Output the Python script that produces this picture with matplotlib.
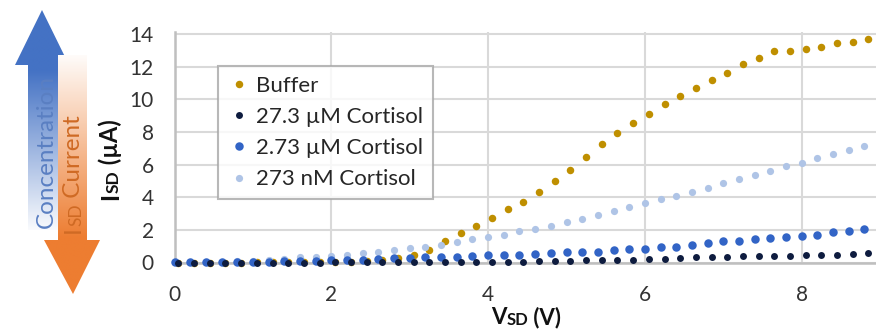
import matplotlib
matplotlib.use('Agg')
import matplotlib.pyplot as plt
import numpy as np
from matplotlib.patches import Polygon

plt.rcParams['font.family'] = ['Lato', 'DejaVu Sans']

# x positions (V) - the two pairs of series sit slightly apart
x_blue = [0.0, 0.2, 0.4, 0.6, 0.8, 1.0, 1.2, 1.4, 1.6, 1.8,
          2.0, 2.2, 2.4, 2.6, 2.8, 3.0, 3.2, 3.4, 3.6, 3.8,
          4.0, 4.2, 4.4, 4.6, 4.8, 5.0, 5.2, 5.4, 5.6, 5.8,
          6.0, 6.2, 6.4, 6.6, 6.8, 7.0, 7.2, 7.4, 7.6, 7.8,
          8.0, 8.2, 8.4, 8.6, 8.8]
x_dark = [0.05, 0.25, 0.45, 0.65, 0.85, 1.05, 1.25, 1.45, 1.65, 1.85,
          2.05, 2.25, 2.45, 2.65, 2.85, 3.05, 3.25, 3.45, 3.65, 3.85,
          4.05, 4.25, 4.45, 4.65, 4.85, 5.05, 5.25, 5.45, 5.65, 5.85,
          6.05, 6.25, 6.45, 6.65, 6.85, 7.05, 7.25, 7.45, 7.65, 7.85,
          8.05, 8.25, 8.45, 8.65, 8.85]

buffer = [0.0, 0.0, 0.0, 0.0, 0.0, 0.01, 0.01, 0.02, 0.02, 0.03,
          0.04, 0.05, 0.08, 0.14, 0.28, 0.46, 0.77, 1.29, 1.78, 2.26,
          2.71, 3.26, 3.73, 4.32, 4.99, 5.65, 6.44, 7.26, 7.96, 8.53,
          9.12, 9.71, 10.18, 10.67, 11.16, 11.63, 12.14, 12.51, 12.94, 12.98,
          13.08, 13.22, 13.43, 13.53, 13.71]
c273uM = [0.0, 0.0, 0.0, 0.0, 0.0, 0.0, 0.0, 0.0, 0.0, 0.0,
          0.01, 0.01, 0.02, 0.02, 0.02, 0.03, 0.03, 0.03, 0.04, 0.04,
          0.04, 0.04, 0.05, 0.08, 0.12, 0.12, 0.16, 0.16, 0.16, 0.16,
          0.22, 0.22, 0.27, 0.31, 0.31, 0.31, 0.37, 0.37, 0.41, 0.41,
          0.45, 0.45, 0.49, 0.55, 0.61]
c273uM_2 = [0.02, 0.02, 0.02, 0.02, 0.03, 0.04, 0.05, 0.07, 0.09, 0.12,
            0.15, 0.18, 0.17, 0.21, 0.26, 0.30, 0.36, 0.36, 0.36, 0.40,
            0.46, 0.46, 0.46, 0.50, 0.60, 0.62, 0.66, 0.66, 0.77, 0.81,
            0.85, 0.93, 0.97, 1.05, 1.19, 1.30, 1.34, 1.42, 1.52, 1.56,
            1.62, 1.69, 1.87, 1.93, 2.05]
c273nM = [0.02, 0.02, 0.02, 0.05, 0.10, 0.10, 0.15, 0.24, 0.33, 0.36,
          0.42, 0.46, 0.56, 0.66, 0.77, 0.87, 0.93, 1.07, 1.28, 1.42,
          1.54, 1.69, 1.91, 2.03, 2.24, 2.48, 2.67, 2.91, 3.16, 3.42,
          3.67, 3.91, 4.09, 4.34, 4.58, 4.87, 5.12, 5.36, 5.61, 5.89,
          6.12, 6.42, 6.67, 6.91, 7.16]

labels = ['Buffer', '27.3 µM Cortisol', '2.73 µM Cortisol', '273 nM Cortisol']
colors = ['#BF8F00', '#0E1C3F', '#3264C6', '#AFC4E6']
yticks = [0, 2, 4, 6, 8, 10, 12, 14]
xticks = [0, 2, 4, 6, 8]

W, H = 876, 329
fig = plt.figure(figsize=(W / 100, H / 100), dpi=100)

# overlay in pixel coords for the side arrows and composite labels
ov = fig.add_axes([0, 0, 1, 1], zorder=0)
ov.set_xlim(0, W)
ov.set_ylim(H, 0)
ov.axis('off')


def grad_arrow(pts, rgb, y_full, y_white):
    poly = Polygon(pts, closed=True, facecolor='none', edgecolor='none')
    ov.add_patch(poly)
    xs = [p[0] for p in pts]
    ys = [p[1] for p in pts]
    y0, y1 = min(ys), max(ys)
    yy = np.linspace(y0, y1, 200)
    t = np.clip((yy - y_white) / (y_full - y_white), 0, 1)[:, None]
    c = np.array(matplotlib.colors.to_rgb(rgb))
    img = np.ones((200, 2, 3)) * (1 - t[:, :, None]) + c * t[:, :, None]
    im = ov.imshow(img, extent=(min(xs), max(xs), y1, y0), aspect='auto',
                   interpolation='bilinear', zorder=1)
    im.set_clip_path(poly)


grad_arrow([(42, 10), (69, 65), (58, 65), (58, 230), (28, 230), (28, 65), (15, 65)],
           '#4472C4', 70, 235)
grad_arrow([(58, 55), (87, 55), (87, 240), (100, 240), (73, 294), (44, 240), (58, 240)],
           '#ED7D31', 238, 50)

ov.text(57, 151, 'Concentration', rotation=90, ha='right', va='center',
        fontsize=17.5, color='#5A7FC2', zorder=3)


def chain(parts, x, y, rot, color, weight):
    prev = None
    for txt, size in parts:
        if prev is None:
            if rot:
                prev = ov.text(x, y, txt, rotation=90, ha='right', va='bottom',
                               fontsize=size, color=color, weight=weight, zorder=3)
            else:
                prev = ov.text(x, y, txt, ha='left', va='bottom',
                               fontsize=size, color=color, weight=weight, zorder=3)
        else:
            if rot:
                prev = ov.annotate(txt, xy=(1, 1), xycoords=prev, rotation=90,
                                   ha='right', va='bottom', fontsize=size,
                                   color=color, weight=weight, zorder=3)
            else:
                prev = ov.annotate(txt, xy=(1, 0), xycoords=prev,
                                   ha='left', va='bottom', fontsize=size,
                                   color=color, weight=weight, zorder=3)


chain([('I', 17.5), ('SD', 12.5), (' Current', 17.5)], 84, 233, True, '#CF6A24', 'normal')
chain([('I', 17), ('SD', 12.5), (' (µA)', 17)], 122, 200, True, '#111111', 'bold')
chain([('V', 16), ('SD', 12), (' (V)', 16)], 491, 328, False, '#111111', 'bold')

# main chart
y0px, y14px = 262.5, 34.0
ppu = (y0px - y14px) / 14
ytop = 14.1
ax_top = y0px - ytop * ppu
x0px = 174.5
xppu = 78.4
ax = fig.add_axes([x0px / W, (H - y0px) / H, (W - x0px) / W, (y0px - ax_top) / H], zorder=2)
ax.patch.set_alpha(0)
ax.set_xlim(0, (W - x0px) / xppu)
ax.set_ylim(0, ytop)

series = [(x_dark, buffer, 5.4, 1), (x_dark, c273uM, 5.0, 5), (x_blue, c273uM_2, 6.1, 4), (x_blue, c273nM, 5.2, 3)]
for (xs, ys, ms, z), lab, col in zip(series, labels, colors):
    ax.plot(xs, ys, 'o', ms=ms, color=col, mew=0, label=lab, clip_on=False, zorder=z)

ax.set_xticks(xticks)
ax.set_yticks(yticks)
ax.grid(True, color='#D9D9D9', lw=1.5)
ax.set_axisbelow(True)
for s in ['top', 'right']:
    ax.spines[s].set_visible(False)
for s in ['left', 'bottom']:
    ax.spines[s].set_color('#BFBFBF')
    ax.spines[s].set_linewidth(1.8)
ax.tick_params(length=0, labelsize=15, labelcolor='#333333')
ax.tick_params(axis='y', pad=15)
ax.tick_params(axis='x', pad=16)

leg = ax.legend(loc='upper left', bbox_to_anchor=(218 / W, 1 - 66 / H),
                bbox_transform=fig.transFigure, borderaxespad=0, fontsize=16,
                frameon=True, fancybox=False, edgecolor='#A6A6A6',
                handlelength=1.0, handletextpad=0.25, borderpad=0.45,
                labelspacing=0.5, numpoints=1)
leg.get_frame().set_linewidth(1.5)
for t in leg.get_texts():
    t.set_color('#262626')

fig.savefig('out.png', dpi=100)
